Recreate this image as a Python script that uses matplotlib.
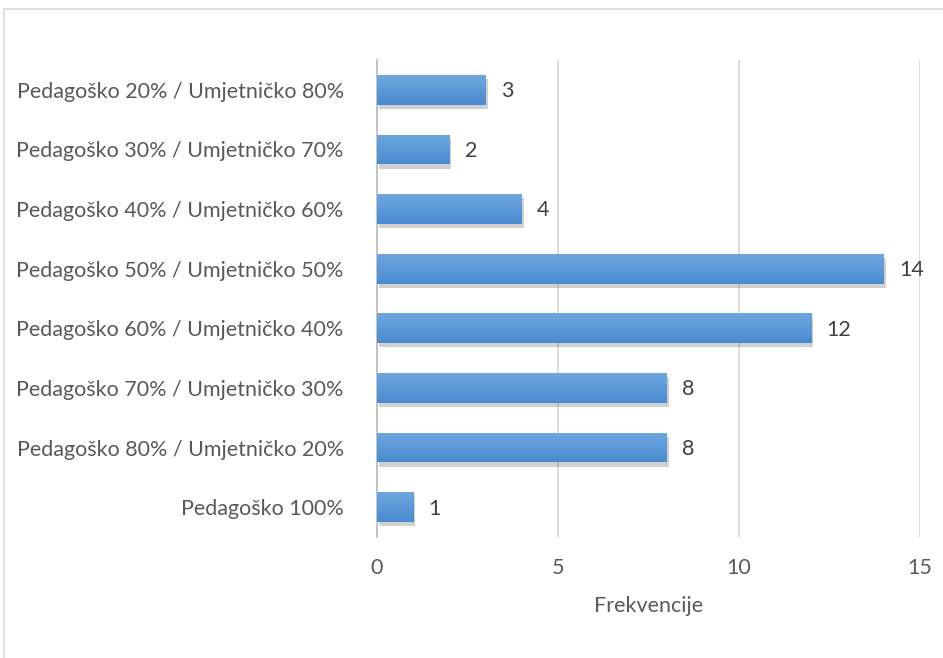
import numpy as np
import matplotlib.pyplot as plt
from matplotlib.patches import Rectangle
import matplotlib.patheffects as pe

categories = [
    "Pedagoško 20% / Umjetničko 80%",
    "Pedagoško 30% / Umjetničko 70%",
    "Pedagoško 40% / Umjetničko 60%",
    "Pedagoško 50% / Umjetničko 50%",
    "Pedagoško 60% / Umjetničko 40%",
    "Pedagoško 70% / Umjetničko 30%",
    "Pedagoško 80% / Umjetničko 20%",
    "Pedagoško 100%",
]
values = [3, 2, 4, 14, 12, 8, 8, 1]
xticks = [0, 5, 10, 15]
xlabel = "Frekvencije"

plt.rcParams['font.family'] = ['Lato', 'DejaVu Sans']
FS = 15.5

fig = plt.figure(figsize=(9.43, 6.58), dpi=100)
fig.patches.append(Rectangle((4 / 943, -0.1), 1.1, 1 - 9 / 658 + 0.1,
                             transform=fig.transFigure, fill=False,
                             edgecolor='#d9d9d9', linewidth=1.2))

ax = fig.add_axes([377 / 943, 1 - 537 / 658, 543 / 943, 477 / 658])

ypos = np.arange(len(categories))
h = 0.5
bars = ax.barh(ypos, values, height=h, color='#5b9bd5', zorder=3)

# light-to-dark vertical gradient plus a soft shadow, like the Office style
grad = np.linspace(0, 1, 64).reshape(-1, 1)
cmap = plt.matplotlib.colors.LinearSegmentedColormap.from_list(
    'g', ['#6ea7de', '#4a8bd0'])
for b, y, v in zip(bars, ypos, values):
    b.set_path_effects([pe.SimplePatchShadow(offset=(1.5, -3),
                                             shadow_rgbFace='#666666',
                                             alpha=0.3),
                        pe.Normal()])
    im = ax.imshow(grad, extent=(0, v, y + h / 2, y - h / 2), cmap=cmap,
                   aspect='auto', zorder=4, interpolation='bilinear')
    im.set_clip_path(b)
    ax.annotate(str(v), (v, y), xytext=(11, -1), textcoords='offset points',
                va='center', ha='left', fontsize=FS, color='#404040')

ax.set_xlim(0, 15)
ax.set_ylim(len(categories) - 0.5, -0.5)
ax.set_xticks(xticks)
ax.set_yticks(ypos)
ax.set_yticklabels(categories)
ax.tick_params(axis='both', length=0, labelsize=FS, colors='#595959')
ax.tick_params(axis='y', pad=24)
ax.tick_params(axis='x', pad=15)
ax.set_xlabel(xlabel, fontsize=FS, color='#595959', labelpad=13)
ax.grid(axis='x', color='#d9d9d9', linewidth=1.3, zorder=0)
ax.set_axisbelow(True)
for s in ['top', 'right', 'bottom']:
    ax.spines[s].set_visible(False)
ax.spines['left'].set_color('#bfbfbf')
ax.spines['left'].set_linewidth(1.3)

fig.savefig('out.png', dpi=100)
